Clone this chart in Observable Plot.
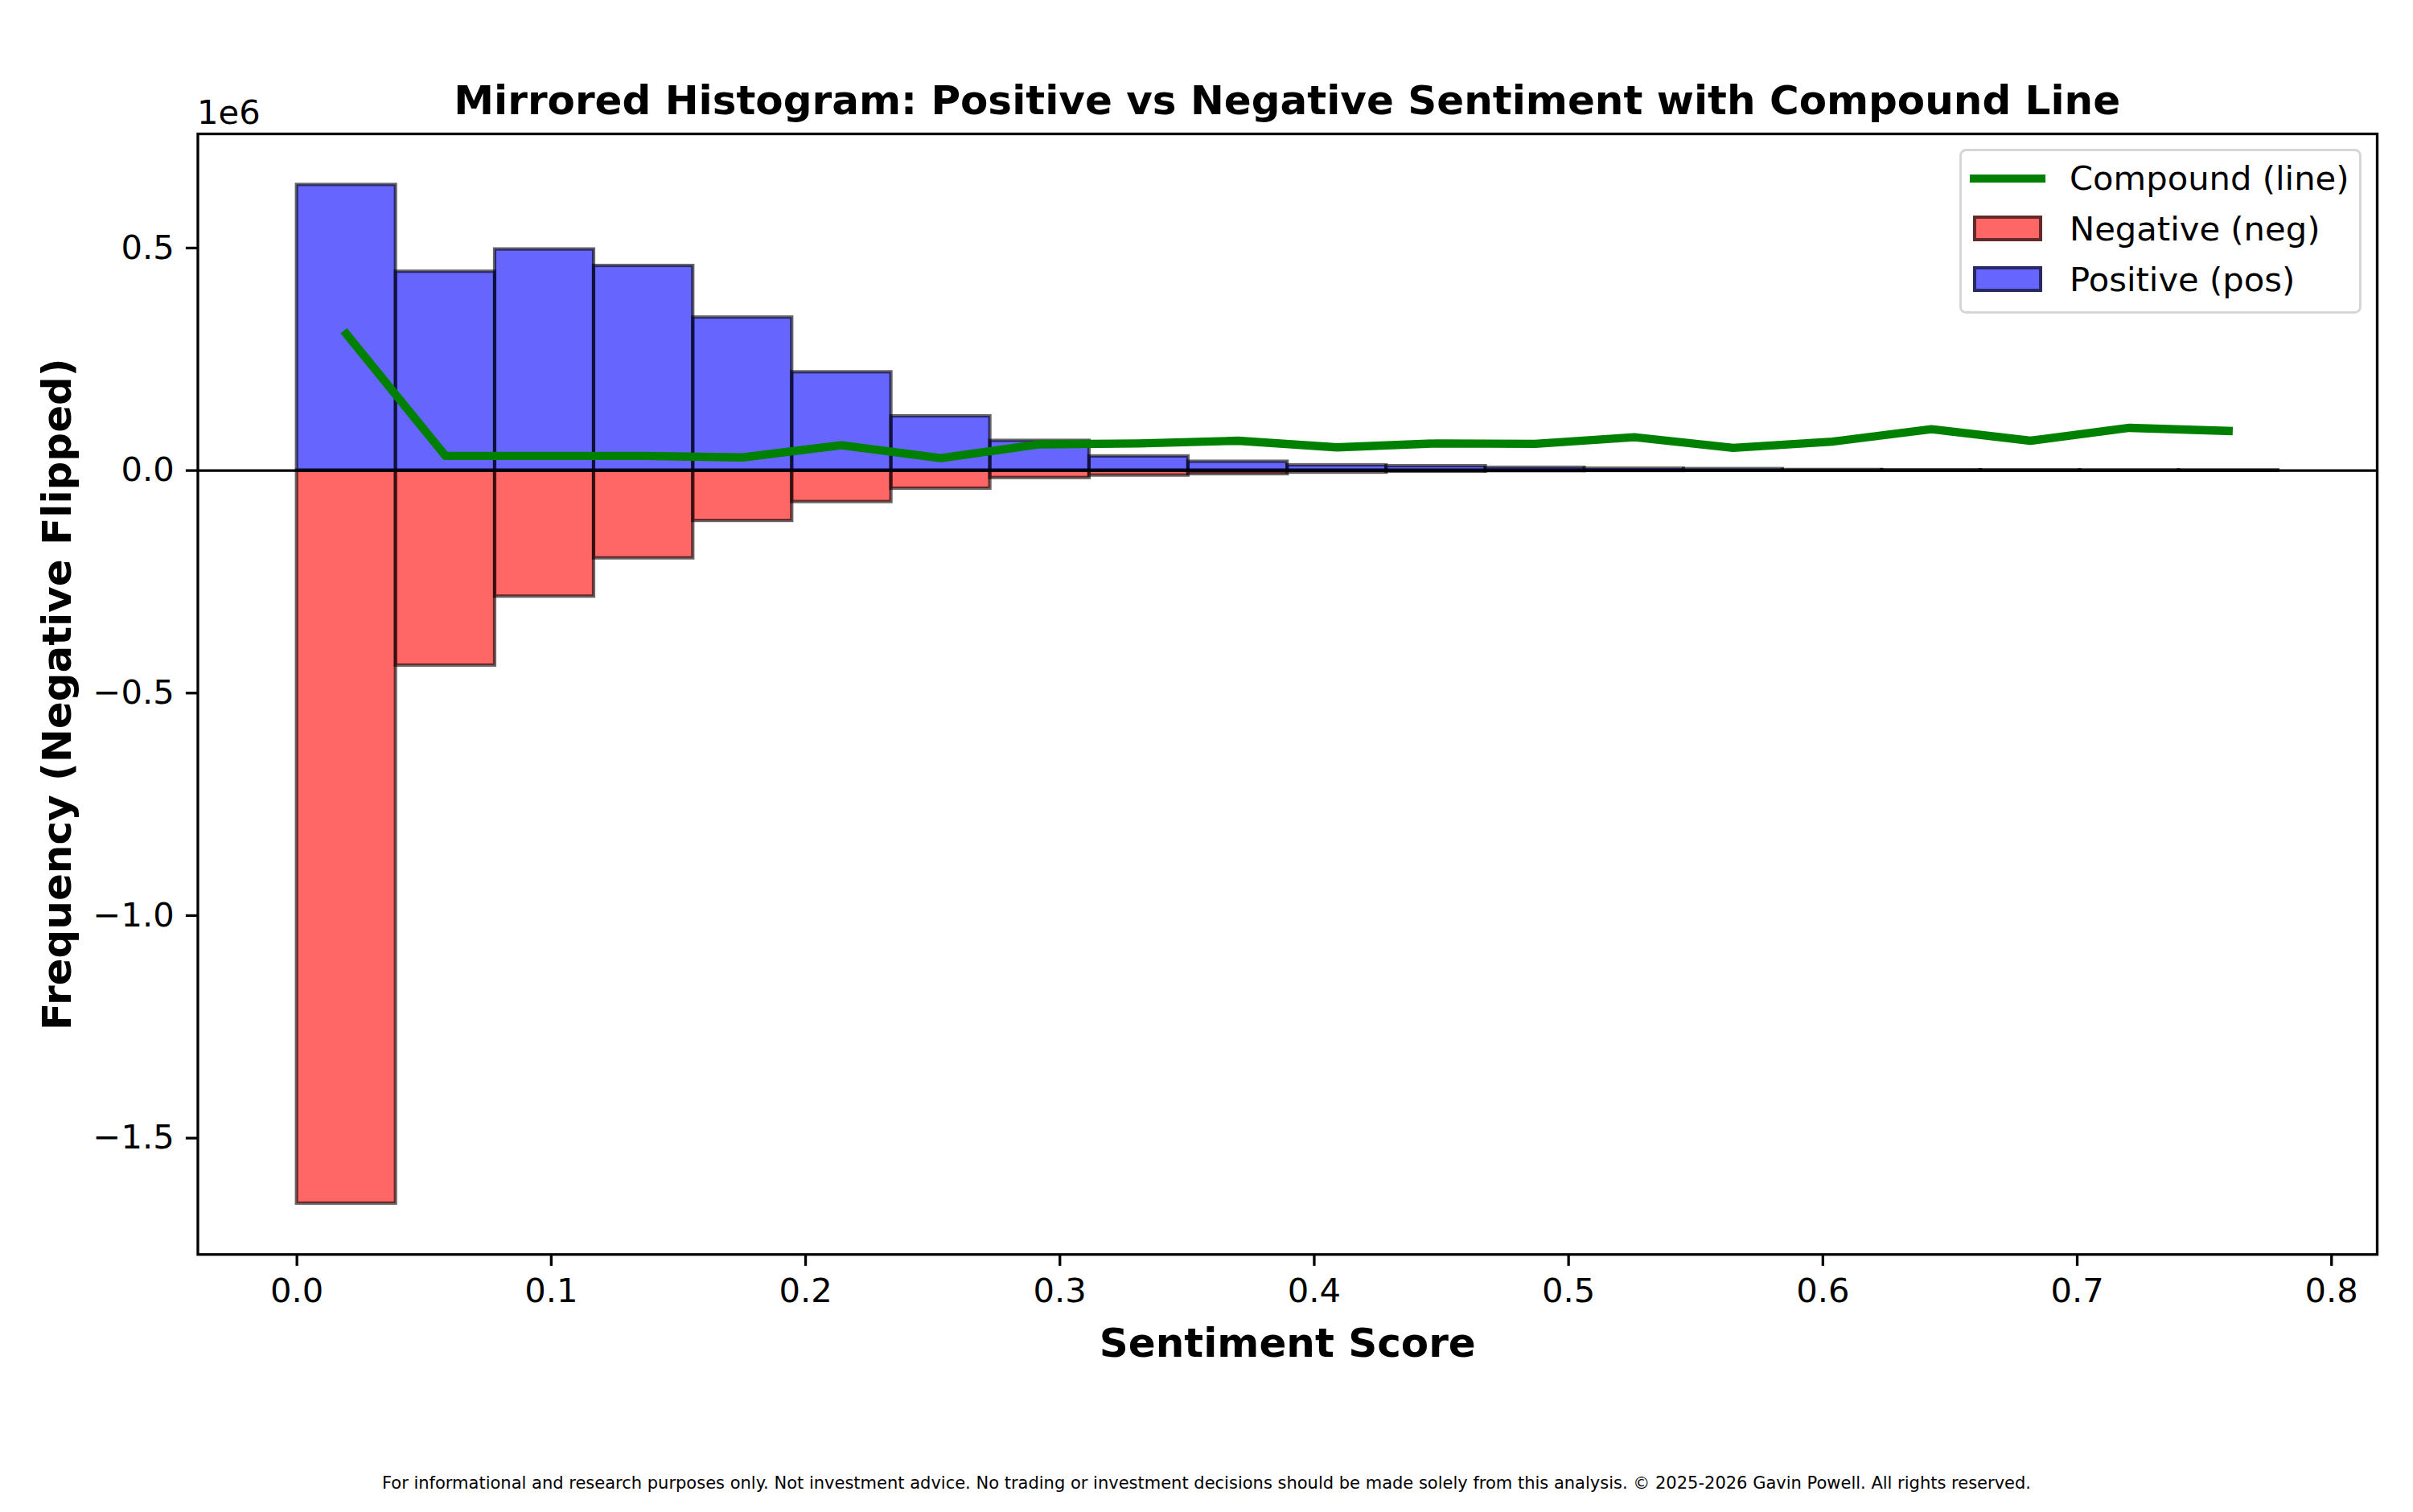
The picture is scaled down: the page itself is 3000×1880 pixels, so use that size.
<!DOCTYPE html>
<html>
<head>
<meta charset="utf-8">
<script src="https://cdn.jsdelivr.net/npm/d3@7"></script>
<script src="https://cdn.jsdelivr.net/npm/@observablehq/plot@0.6"></script>
<style>
  html, body { margin: 0; padding: 0; background: #fff; }
  #fig { position: relative; width: 3000px; height: 1880px; overflow: hidden; background: #fff;
         font-family: "DejaVu Sans", sans-serif; color: #000; }
  #fig svg { position: absolute; left: 0; top: 0; }
  .abs { position: absolute; white-space: nowrap; }
  #title { left: 245.5px; width: 2709.5px; top: 100px; text-align: center; font-size: 50px; line-height: 50px; font-weight: bold; }
  #offset { left: 245px; top: 119px; font-size: 41.7px; line-height: 41.7px; }
  #caption { left: 0; width: 3000px; text-align: center; top: 1834px; font-size: 21px; line-height: 21px; }
  #legend { left: 2435.75px; top: 184.95px; width: 500.6px; height: 205.1px; box-sizing: border-box;
            border: 3.5px solid #d6d6d6; border-radius: 8.3px; background: rgba(255,255,255,0.8); }
  .lg-text { font-size: 41.7px; line-height: 41.7px; }
  .lg-line { height: 10.4px; background: #008000; }
  .lg-patch { box-sizing: border-box; border: 4.17px solid rgba(0,0,0,0.6); }
  g[aria-label="x-axis label"], g[aria-label="y-axis label"] { font-size: 50px; font-weight: bold; }
</style>
</head>
<body>
<div id="fig"></div>
<script>
// ---- Data ----
const binLeft  = [0.0000, 0.0389, 0.0779, 0.1168, 0.1558, 0.1947, 0.2337, 0.2726, 0.3116, 0.3505,
                  0.3895, 0.4284, 0.4674, 0.5063, 0.5453, 0.5842, 0.6232, 0.6621, 0.7011, 0.7400];
const binRight = [0.0389, 0.0779, 0.1168, 0.1558, 0.1947, 0.2337, 0.2726, 0.3116, 0.3505, 0.3895,
                  0.4284, 0.4674, 0.5063, 0.5453, 0.5842, 0.6232, 0.6621, 0.7011, 0.7400, 0.7790];
const positiveCounts = [642000, 447000, 497000, 460000, 344000, 221000, 122000, 67000, 32000, 20000,
                        12000, 10000, 6500, 4500, 3500, 1500, 1000, 700, 400, 300];
const negativeCounts = [1647000, 438000, 283000, 197000, 113000, 70500, 40500, 16500, 11000, 8000,
                        4500, 2500, 1200, 800, 500, 300, 200, 100, 60, 30];
const compoundCounts = [307000, 33000, 33000, 33000, 29500, 57000, 28000, 59000, 61000, 67000,
                        52000, 61000, 60000, 75000, 51000, 65000, 93000, 67000, 96000, 89000];
const xTicks = [0.0, 0.1, 0.2, 0.3, 0.4, 0.5, 0.6, 0.7, 0.8];
const yTicks = [-1500000, -1000000, -500000, 0, 500000];

const titleText = "Mirrored Histogram: Positive vs Negative Sentiment with Compound Line";
const xLabel = "Sentiment Score";
const yLabel = "Frequency (Negative Flipped)";
const offsetText = "1e6";
const legendLabels = ["Compound (line)", "Negative (neg)", "Positive (pos)"];
const captionText = "For informational and research purposes only. Not investment advice. No trading or investment decisions should be made solely from this analysis. \u00A9 2025-2026 Gavin Powell. All rights reserved.";

// ---- Tables ----
const bins = binLeft.map((x1, i) => ({
  x1, x2: binRight[i],
  pos: positiveCounts[i],
  neg: -negativeCounts[i],
  mid: (x1 + binRight[i]) / 2,
  comp: compoundCounts[i]
}));

// matplotlib-style 5% margins
function padded(lo, hi) { const p = (hi - lo) * 0.05; return [lo - p, hi + p]; }
const xDomain = padded(d3.min(binLeft), d3.max(binRight));
const yDomain = padded(d3.min(bins, d => d.neg), d3.max(bins, d => Math.max(d.pos, d.comp)));

const fmtY = d => (d / 1e6).toFixed(1).replace("-", "\u2212");

const chart = Plot.plot({
  width: 3000,
  height: 1880,
  marginLeft: 245.5,
  marginRight: 45,
  marginTop: 166,
  marginBottom: 320.7,
  style: { fontFamily: "'DejaVu Sans', sans-serif", fontSize: "41.7px", background: "transparent", color: "#000", overflow: "visible" },
  x: { domain: xDomain },
  y: { domain: yDomain },
  marks: [
    Plot.rect(bins, { x1: "x1", x2: "x2", y1: () => 0, y2: "neg",
      fill: "#ff0000", fillOpacity: 0.6, stroke: "#000", strokeOpacity: 0.6, strokeWidth: 4.17 }),
    Plot.rect(bins, { x1: "x1", x2: "x2", y1: () => 0, y2: "pos",
      fill: "#0000ff", fillOpacity: 0.6, stroke: "#000", strokeOpacity: 0.6, strokeWidth: 4.17 }),
    Plot.ruleY([0], { stroke: "#000", strokeWidth: 3.3 }),
    Plot.line(bins, { x: "mid", y: "comp", stroke: "#008000", strokeWidth: 10.4,
      strokeLinecap: "square", strokeLinejoin: "round" }),
    Plot.frame({ stroke: "#000", strokeWidth: 3.3 }),
    Plot.axisX({ ticks: xTicks, tickFormat: d => d.toFixed(1), tickSize: 14.6, tickPadding: 14.6,
      strokeWidth: 3.3, fontSize: 41.7, label: xLabel, labelAnchor: "center", labelArrow: "none", labelOffset: 126.7 }),
    Plot.axisY({ ticks: yTicks, tickFormat: fmtY, tickSize: 14.6, tickPadding: 14.6,
      strokeWidth: 3.3, fontSize: 41.7, label: yLabel, labelAnchor: "center", labelArrow: "none", labelOffset: 194 })
  ]
});

const fig = document.getElementById("fig");
fig.appendChild(chart);

function addDiv(id, cls, text, styles) {
  const el = document.createElement("div");
  if (id) el.id = id;
  el.className = "abs " + (cls || "");
  if (text != null) el.textContent = text;
  Object.assign(el.style, styles || {});
  fig.appendChild(el);
  return el;
}

addDiv("title", "", titleText);
addDiv("offset", "", offsetText);
addDiv("caption", "", captionText);
addDiv("legend", "", null);

// legend handles and labels
addDiv(null, "lg-line", null, { left: "2448.9px", top: (221.7 - 5.2) + "px", width: "94px" });
addDiv(null, "lg-patch", null, { left: "2453px", top: "268.3px", width: "86.3px", height: "31.7px", background: "rgba(255,0,0,0.6)" });
addDiv(null, "lg-patch", null, { left: "2453px", top: "331px", width: "86.3px", height: "32.3px", background: "rgba(0,0,255,0.6)" });
const baselines = [236.7, 299.3, 362];
legendLabels.forEach((t, i) => addDiv(null, "lg-text", t, { left: "2573px", top: (baselines[i] - 0.846 * 41.7) + "px" }));
</script>
</body>
</html>
